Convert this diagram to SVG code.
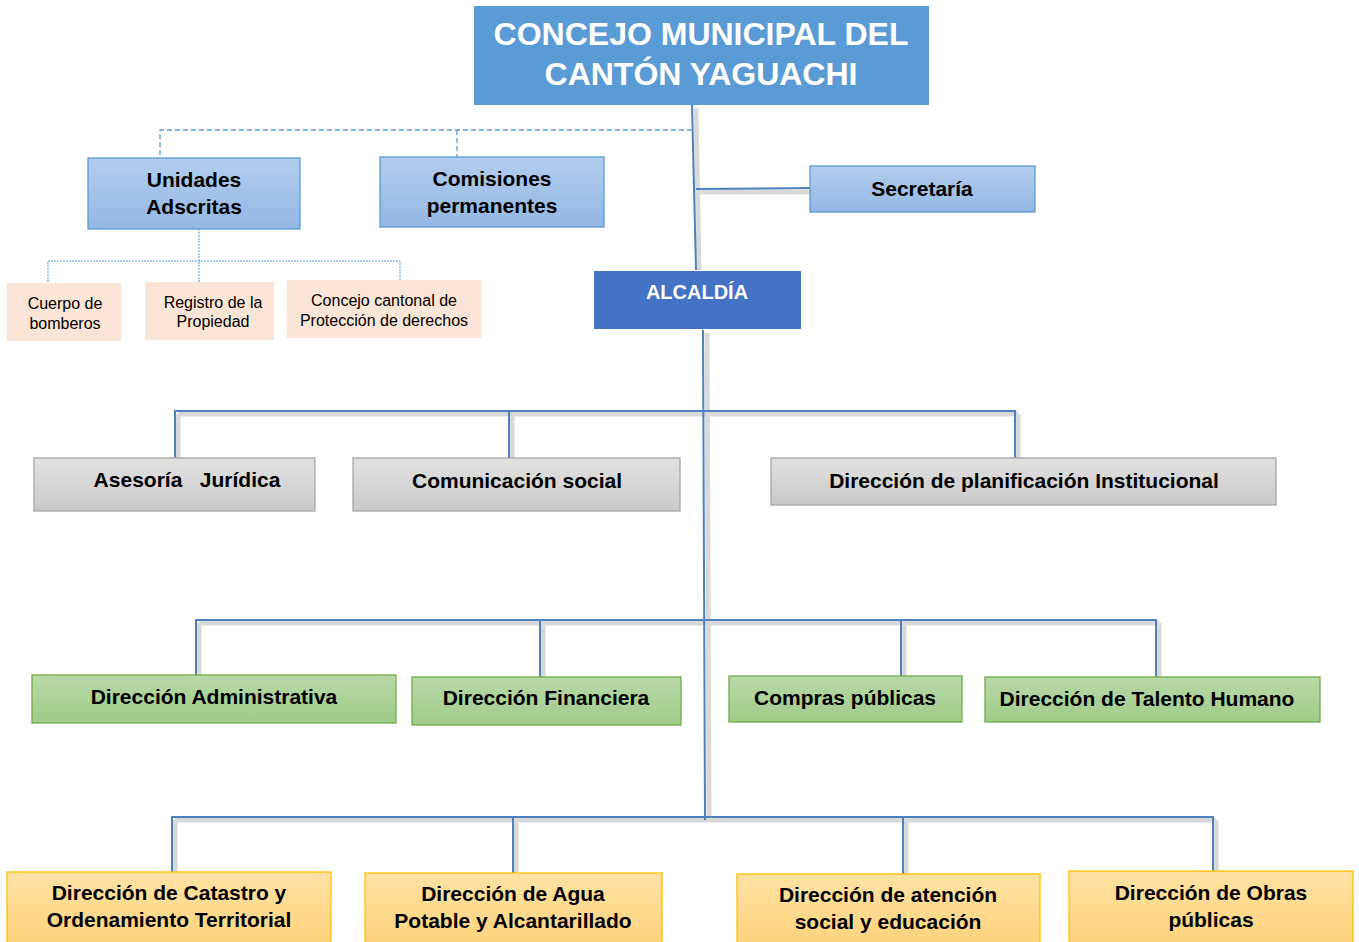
<svg xmlns="http://www.w3.org/2000/svg" width="1359" height="942" viewBox="0 0 1359 942">
<defs>
<linearGradient id="gBlue" x1="0" y1="0" x2="0" y2="1"><stop offset="0" stop-color="#B3CDEE"/><stop offset="1" stop-color="#93B7E3"/></linearGradient>
<linearGradient id="gGray" x1="0" y1="0" x2="0" y2="1"><stop offset="0" stop-color="#E2E2E2"/><stop offset="1" stop-color="#C9C9C9"/></linearGradient>
<linearGradient id="gGreen" x1="0" y1="0" x2="0" y2="1"><stop offset="0" stop-color="#B9D9A9"/><stop offset="1" stop-color="#9FCB88"/></linearGradient>
<linearGradient id="gOrange" x1="0" y1="0" x2="0" y2="1"><stop offset="0" stop-color="#FEE2A4"/><stop offset="1" stop-color="#FED27A"/></linearGradient>
</defs>
<style>
text{font-family:"Liberation Sans",Arial,sans-serif;text-anchor:middle}
.b{font-weight:bold;font-size:21px;fill:#000}
.w{font-weight:bold;fill:#fff}
.s{font-size:16px;fill:#000}
.blue{fill:url(#gBlue);stroke:#5B9BD5;stroke-width:1.3}
.gray{fill:url(#gGray);stroke:#A6A6A6;stroke-width:1.3}
.green{fill:url(#gGreen);stroke:#70AD47;stroke-width:1.3}
.orange{fill:url(#gOrange);stroke:#FFC000;stroke-width:1.3}
.peach{fill:#FBE5D6}
.ln{fill:none;stroke:#4F81BD;stroke-width:2}
.sh{fill:none;stroke:#000;stroke-opacity:0.15;stroke-width:5}
.dash{fill:none;stroke:#5B9BD5;stroke-width:1.3;stroke-dasharray:5 3}
.dot{fill:none;stroke:#5B9BD5;stroke-width:1;stroke-dasharray:2 1}
</style>
<rect width="1359" height="942" fill="#fff"/>
<g id="connectors">
<path class="sh" d="M696,108 L699,270 M699,192 L810,192 M707,333 L709,820 M178,414 L1018,414 M178,414 V458 M512,414 V458 M1018,414 V458 M199,623 L1159,623 M199,623 V675 M543,623 V677 M904,623 V676 M1159,623 V677 M175,820 L1216,820 M175,820 V872 M516,820 V873 M906,820 V874 M1216,820 V871"/>
<path class="ln" d="M692,105 L696,270 M696,189 L810,188 M703,330 L705,820"/>
<path class="ln" d="M175,458 V411 H1015 V458 M509,411 V458"/>
<path class="ln" d="M196,675 V620 H1156 V677 M540,620 V677 M901,620 V676"/>
<path class="ln" d="M172,872 V817 H1213 V871 M513,817 V873 M903,817 V874"/>
<path class="dash" d="M692,130 H160 V158 M457,130 V157"/>
<path class="dot" d="M199,229 V282 M48,282 V261 H400 V280"/>
</g>
<g id="concejo">
<rect x="474" y="6" width="455" height="99" fill="#5B9BD5"/>
<text class="w" x="701" y="45" font-size="32">CONCEJO MUNICIPAL DEL</text>
<text class="w" x="701" y="85" font-size="32">CANTÓN YAGUACHI</text>
</g>
<g id="unidades">
<rect class="blue" x="88" y="158" width="212" height="71"/>
<text class="b" x="194" y="187">Unidades</text>
<text class="b" x="194" y="214">Adscritas</text>
</g>
<g id="comisiones">
<rect class="blue" x="380" y="157" width="224" height="70"/>
<text class="b" x="492" y="186">Comisiones</text>
<text class="b" x="492" y="213">permanentes</text>
</g>
<g id="secretaria">
<rect class="blue" x="810" y="166" width="225" height="46"/>
<text class="b" x="922" y="196">Secretaría</text>
</g>
<g id="alcaldia">
<rect x="594" y="271" width="207" height="58" fill="#4472C4"/>
<text class="w" x="697" y="299" font-size="20">ALCALDÍA</text>
</g>
<g id="cuerpo">
<rect class="peach" x="7" y="283" width="114" height="58"/>
<text class="s" x="65" y="309">Cuerpo de</text>
<text class="s" x="65" y="329">bomberos</text>
</g>
<g id="registro">
<rect class="peach" x="145" y="282" width="129" height="58"/>
<text class="s" x="213" y="308">Registro de la</text>
<text class="s" x="213" y="327">Propiedad</text>
</g>
<g id="concejo-cantonal">
<rect class="peach" x="287" y="280" width="194" height="58"/>
<text class="s" x="384" y="306">Concejo cantonal de</text>
<text class="s" x="384" y="326">Protección de derechos</text>
</g>
<g id="asesoria">
<rect class="gray" x="34" y="458" width="281" height="53"/>
<text class="b" x="187" y="487" xml:space="preserve">Asesoría   Jurídica</text>
</g>
<g id="comunicacion">
<rect class="gray" x="353" y="458" width="327" height="53"/>
<text class="b" x="517" y="488">Comunicación social</text>
</g>
<g id="planificacion">
<rect class="gray" x="771" y="458" width="505" height="47"/>
<text class="b" x="1024" y="488">Dirección de planificación Institucional</text>
</g>
<g id="administrativa">
<rect class="green" x="32" y="675" width="364" height="48"/>
<text class="b" x="214" y="704">Dirección Administrativa</text>
</g>
<g id="financiera">
<rect class="green" x="412" y="677" width="269" height="48"/>
<text class="b" x="546" y="705">Dirección Financiera</text>
</g>
<g id="compras">
<rect class="green" x="729" y="676" width="233" height="46"/>
<text class="b" x="845" y="705">Compras públicas</text>
</g>
<g id="talento">
<rect class="green" x="985" y="677" width="335" height="45"/>
<text class="b" x="1147" y="706">Dirección de Talento Humano</text>
</g>
<g id="catastro">
<rect class="orange" x="7" y="872" width="324" height="75"/>
<text class="b" x="169" y="900">Dirección de Catastro y</text>
<text class="b" x="169" y="927">Ordenamiento Territorial</text>
</g>
<g id="agua">
<rect class="orange" x="365" y="873" width="297" height="75"/>
<text class="b" x="513" y="901">Dirección de Agua</text>
<text class="b" x="513" y="928">Potable y Alcantarillado</text>
</g>
<g id="atencion">
<rect class="orange" x="737" y="874" width="303" height="75"/>
<text class="b" x="888" y="902">Dirección de atención</text>
<text class="b" x="888" y="929">social y educación</text>
</g>
<g id="obras">
<rect class="orange" x="1069" y="871" width="284" height="75"/>
<text class="b" x="1211" y="900">Dirección de Obras</text>
<text class="b" x="1211" y="927">públicas</text>
</g>
</svg>
